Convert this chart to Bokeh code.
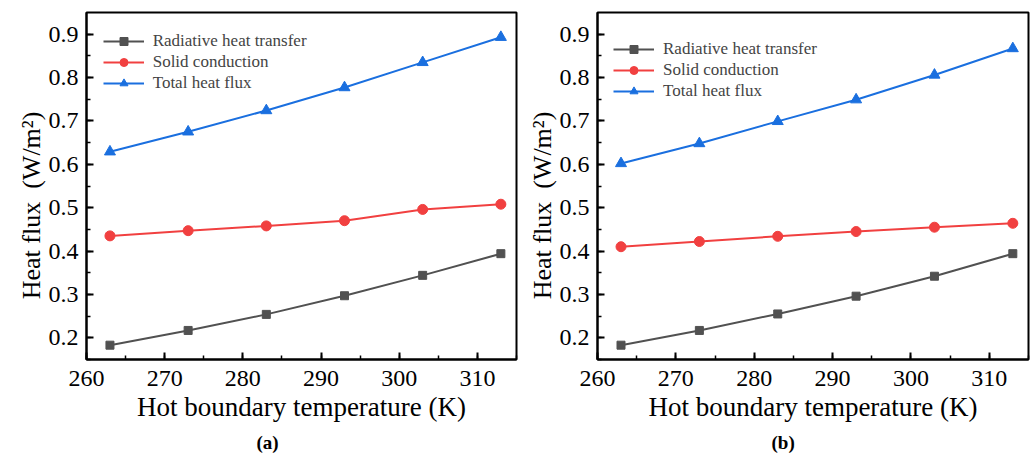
from bokeh.plotting import figure
from bokeh.layouts import row
from bokeh.models import (Range1d, SingleIntervalTicker, Legend, LegendItem, Title,
                          PrintfTickFormatter)
from bokeh.embed import file_html
from bokeh.resources import INLINE

# ---- data ----
temps = [263, 273, 283, 293, 303, 313]
rad_a = [0.183, 0.217, 0.254, 0.297, 0.344, 0.394]
solid_a = [0.435, 0.447, 0.458, 0.470, 0.496, 0.508]
total_a = [0.629, 0.675, 0.724, 0.777, 0.835, 0.893]
rad_b = [0.183, 0.217, 0.255, 0.296, 0.342, 0.394]
solid_b = [0.410, 0.422, 0.434, 0.445, 0.455, 0.464]
total_b = [0.602, 0.648, 0.699, 0.749, 0.806, 0.867]
series_names = ["Radiative heat transfer", "Solid conduction", "Total heat flux"]
x_label = "Hot boundary temperature (K)"
y_label = "Heat flux\u00a0 (W/m\u00b2)" + "\u00a0" * 6

FONT = "Liberation Serif"
COLORS = ["#515151", "#F14040", "#1A6FDF"]
MARKERS = ["square", "circle", "triangle"]
SIZES = [8, 10, 11]


def panel(rad, solid, total, letter, bl, br, bb, leg_loc, cap_offset):
    p = figure(width=518, height=457, x_range=Range1d(260, 315), y_range=Range1d(0.15, 0.95),
               output_backend="svg", toolbar_location=None,
               min_border_left=bl, min_border_right=br, min_border_top=12, min_border_bottom=bb)
    p.grid.visible = False
    p.outline_line_color = "black"
    p.outline_line_width = 2
    p.outline_line_alpha = 1

    xa = p.xaxis[0]
    ya = p.yaxis[0]
    xa.ticker = SingleIntervalTicker(interval=10, num_minor_ticks=2)
    ya.ticker = SingleIntervalTicker(interval=0.1, num_minor_ticks=2)
    xa.formatter = PrintfTickFormatter(format="%d")
    ya.formatter = PrintfTickFormatter(format="%.1f")
    for ax in (xa, ya):
        ax.axis_line_width = 2
        ax.axis_line_color = "black"
        ax.major_tick_in = 7
        ax.major_tick_out = 0
        ax.minor_tick_in = 4
        ax.minor_tick_out = 0
        ax.major_tick_line_width = 2
        ax.minor_tick_line_width = 1.5
        ax.major_tick_line_color = "black"
        ax.minor_tick_line_color = "black"
        ax.major_label_text_font = FONT
        ax.major_label_text_font_size = "24px"
        ax.major_label_text_color = "black"
        ax.axis_label_text_font = FONT
        ax.axis_label_text_font_style = "normal"
        ax.axis_label_text_color = "black"
    ya.major_label_standoff = 8
    xa.major_label_standoff = 11
    xa.axis_label = x_label
    xa.axis_label_text_font_size = "27px"
    xa.axis_label_standoff = 3
    ya.axis_label = y_label
    ya.axis_label_text_font_size = "26px"
    ya.axis_label_standoff = 0

    items = []
    for ys, name, c, m, s in zip([rad, solid, total], series_names, COLORS, MARKERS, SIZES):
        lr = p.line(temps, ys, line_color=c, line_width=2)
        sr = p.scatter(temps, ys, marker=m, size=s, fill_color=c, line_color=c)
        items.append(LegendItem(label=name, renderers=[lr, sr]))
    leg = Legend(items=items, location=leg_loc, margin=0, padding=0, spacing=1,
                 glyph_width=41, glyph_height=20, label_height=20, label_standoff=9,
                 label_text_font=FONT, label_text_font_size="17px",
                 border_line_alpha=0, background_fill_alpha=0)
    p.add_layout(leg)

    p.add_layout(Title(text="(" + letter + ")", align="left", offset=cap_offset,
                       text_font=FONT, text_font_size="19px", text_font_style="bold",
                       text_color="black", standoff=10), "below")
    return p


pa = panel(rad_a, solid_a, total_a, "a", 86, 2, 97, (16.7, 265.7), 170)
pb = panel(rad_b, solid_b, total_b, "b", 79, 8, 96, (16, 258.5), 174)

layout = row(pa, pb)
open("out.html", "w").write(file_html(layout, INLINE))
